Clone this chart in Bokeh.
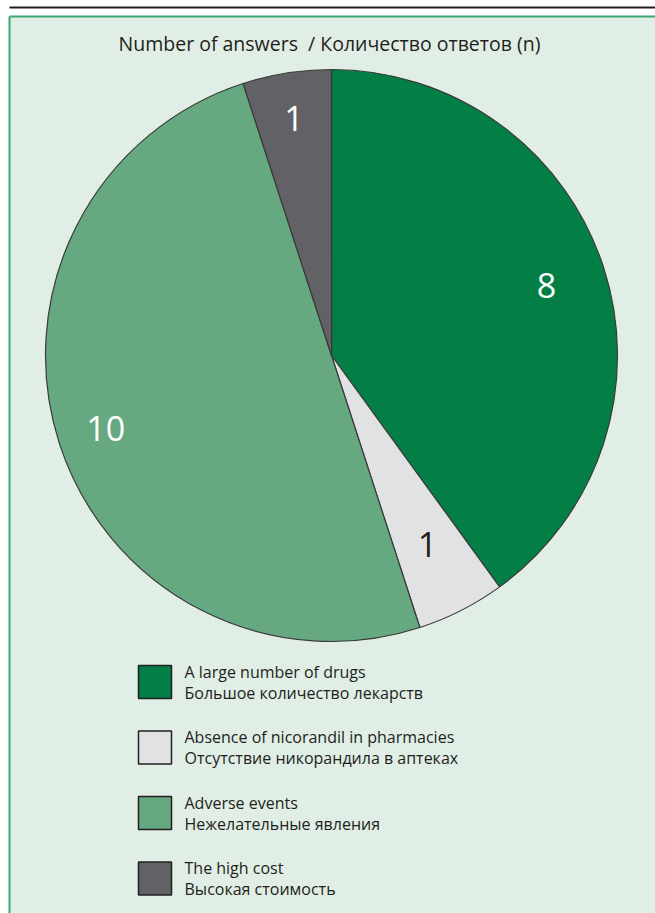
import math
from bokeh.plotting import figure
from bokeh.models import Range1d
from bokeh.core.properties import value
from bokeh.embed import file_html
from bokeh.resources import INLINE

# ---- data ----
title = "Number of answers \u00a0/ Количество ответов (n)"
labels_en = ["A large number of drugs", "Absence of nicorandil in pharmacies",
             "Adverse events", "The high cost"]
labels_ru = ["Большое количество лекарств", "Отсутствие никорандила в аптеках",
             "Нежелательные явления", "Высокая стоимость"]
counts = [8, 1, 10, 1]
colors = ["#037f45", "#e1e2e4", "#66a980", "#626165"]
label_colors = ["white", "#231f20", "white", "white"]

# ---- layout ----
W, H = 655, 913
def Y(py):
    return H - py

FONT = "Open Sans"
TEXT_COL = "#231f20"
cx, cy, R = 331, Y(355), 286
label_frac = [0.79, 0.74, 0.83, 0.84]

p = figure(width=W, height=H, output_backend="svg", toolbar_location=None,
           x_range=Range1d(0, W), y_range=Range1d(0, H), min_border=0)
p.axis.visible = False
p.grid.visible = False
p.outline_line_color = None
p.background_fill_color = "white"
p.border_fill_color = "white"

# panel
p.quad(left=9, right=W, bottom=0, top=Y(16), fill_color="#e0eee5", line_color=None)
p.segment(x0=9, y0=Y(16), x1=W, y1=Y(16), line_color="#3aa874", line_width=2)
p.segment(x0=9, y0=Y(16), x1=9, y1=0, line_color="#3aa874", line_width=2)
# top rule
p.segment(x0=9, y0=Y(7), x1=W, y1=Y(7), line_color=TEXT_COL, line_width=2)

# title
p.text(x=[329], y=[Y(43)], text=[title], text_font=value(FONT), text_font_size="19.5px",
       text_color=TEXT_COL, text_align="center", text_baseline="middle")

# pie
total = sum(counts)
starts, ends, lx, ly = [], [], [], []
cum = 0
for i, c in enumerate(counts):
    a0 = math.radians(90 - 360 * cum / total)
    a1 = math.radians(90 - 360 * (cum + c) / total)
    starts.append(a0)
    ends.append(a1)
    mid = (a0 + a1) / 2
    lx.append(cx + R * label_frac[i] * math.cos(mid))
    ly.append(cy + R * label_frac[i] * math.sin(mid))
    cum += c

p.wedge(x=cx, y=cy, radius=R, start_angle=starts, end_angle=ends, direction="clock",
        fill_color=colors, line_color="#3a3a3a", line_width=1.2)
p.text(x=lx, y=ly, text=[str(c) for c in counts], text_font=value(FONT),
       text_font_size="34px", text_color=label_colors, text_align="center",
       text_baseline="middle")

# legend
sq_tops = [665 + 65.5 * i for i in range(len(counts))]
p.rect(x=[154.5] * 4, y=[Y(t + 16.5) for t in sq_tops], width=33, height=33,
       fill_color=colors, line_color=TEXT_COL, line_width=1.5)
p.text(x=[184] * 4, y=[Y(t + 6) for t in sq_tops], text=labels_en, text_font=value(FONT),
       text_font_size="16px", text_color=TEXT_COL, text_baseline="middle")
p.text(x=[184] * 4, y=[Y(t + 27) for t in sq_tops], text=labels_ru, text_font=value(FONT),
       text_font_size="16px", text_color=TEXT_COL, text_baseline="middle")

open("out.html", "w").write(file_html(p, INLINE))
